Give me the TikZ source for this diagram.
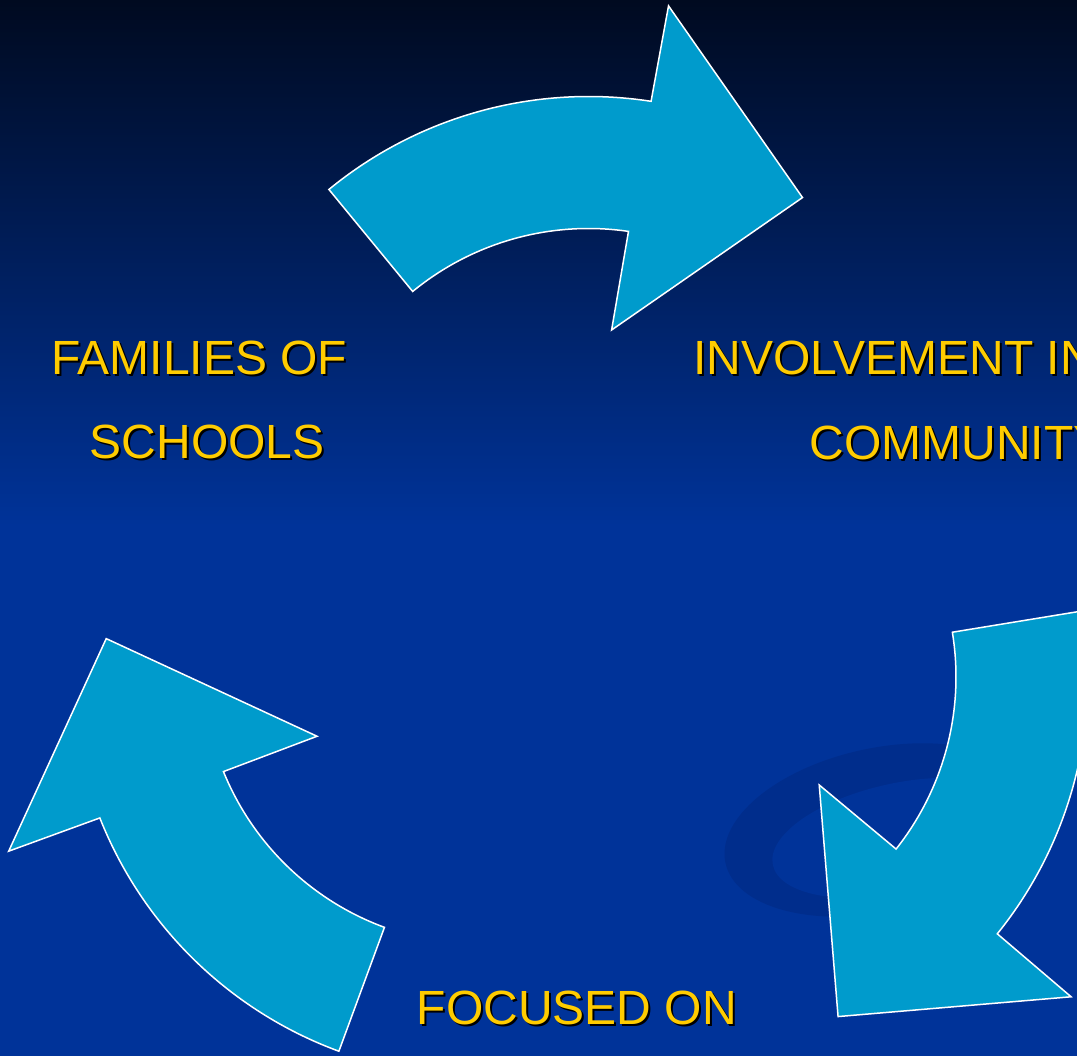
\documentclass[tikz,border=0pt]{standalone}
\usepackage{fontspec}
\setmainfont{Liberation Sans}
\usepackage{xcolor}
\usepackage{tikz}
\usetikzlibrary{positioning, calc}

\definecolor{slidetop}{HTML}{000A20}
\definecolor{slideblue}{HTML}{003399}
\definecolor{swooshblue}{HTML}{002D8C}
\definecolor{arrowcyan}{HTML}{009BCC}
\definecolor{labelgold}{HTML}{FFCC00}

\begin{document}
\begin{tikzpicture}[
    x=1pt, y=1pt,
    cyclearrow/.style={fill=arrowcyan, draw=white, line width=1.5pt, line join=miter},
    cycletext/.style={anchor=base west, inner sep=0pt, text=labelgold, font=\fontsize{48}{58}\selectfont},
    textshadow/.style={cycletext, text=black, xshift=2pt, yshift=-2pt}
]

\useasboundingbox (0,0) rectangle (1077,1056);
\clip (0,0) rectangle (1077,1056);

% Background
\fill[slideblue] (0,0) rectangle (1077,1056);
\shade[top color=slidetop, bottom color=slideblue] (0,530) rectangle (1077,1056);

% Swoosh behind the lower right arrow
\fill[swooshblue, rotate around={12:(880,226)}] (880,226) ellipse[x radius=158, y radius=82];
\fill[slideblue, rotate around={12:(900,218)}] (900,218) ellipse[x radius=130, y radius=55];

% Top arrow
\begin{scope}[shift={(588.5,550.5)}]
\draw[cyclearrow] (129.4:409) arc[start angle=129.4, end angle=81.2, radius=409]
    -- (80.9:506) -- (55.2:375) -- (82.5:177) -- (81.7:277)
    arc[start angle=81.7, end angle=129.4, radius=277] -- cycle;
\end{scope}

% Right arrow
\begin{scope}[shift={(679,379)}]
\draw[cyclearrow] (9.3:409) arc[start angle=9.3, end angle=-38.9, radius=409]
    -- (-39.2:506) -- (-64.9:375) -- (-37.6:177) -- (-38.4:277)
    arc[start angle=-38.4, end angle=9.3, radius=277] -- cycle;
\end{scope}

% Left arrow
\begin{scope}[shift={(480.1,388.6)}]
\draw[cyclearrow] (249.8:409) arc[start angle=249.8, end angle=201.6, radius=409]
    -- (201.3:506) -- (175.6:375) -- (202.9:177) -- (202.1:277)
    arc[start angle=202.1, end angle=249.8, radius=277] -- cycle;
\end{scope}

% Labels
\node[textshadow] (fam1s) at (51,681) {FAMILIES OF};
\node[cycletext] (fam1) at (51,681) {FAMILIES OF};
\node[textshadow] (fam2s) at (89.5,597) {SCHOOLS};
\node[cycletext] (fam2) at (89.5,597) {SCHOOLS};

\node[textshadow] (inv1s) at (692.8,681) {INVOLVEMENT IN};
\node[cycletext] (inv1) at (692.8,681) {INVOLVEMENT IN};
\node[textshadow] (inv2s) at (809.3,596) {COMMUNITY};
\node[cycletext] (inv2) at (809.3,596) {COMMUNITY};

\node[textshadow] (focs) at (416.5,31) {FOCUSED ON};
\node[cycletext] (foc) at (416.5,31) {FOCUSED ON};

\end{tikzpicture}
\end{document}
